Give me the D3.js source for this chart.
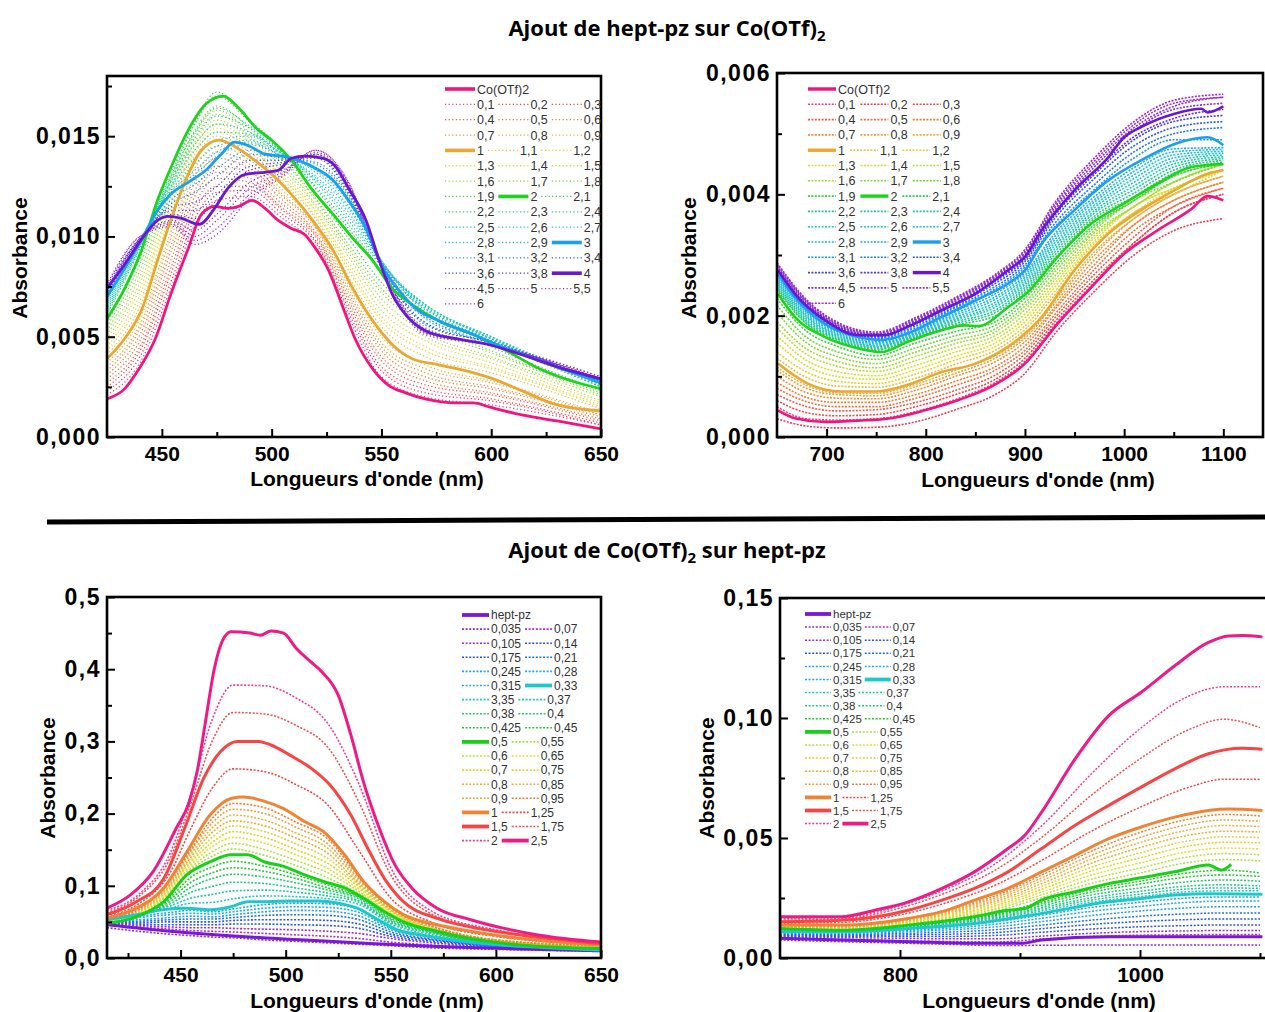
<!DOCTYPE html>
<html><head><meta charset="utf-8">
<script src="https://cdn.jsdelivr.net/npm/d3@7"></script>
<style>body{margin:0;background:#fff;} svg{display:block;}</style>
</head><body>
<svg id="chart" width="1265" height="1012"></svg>
<script>
// ---------------- Panel 1 : hept-pz added to Co(OTf)2, 425-650 nm ----------------
const p1Labels = ["Co(OTf)2","0,1","0,2","0,3","0,4","0,5","0,6","0,7","0,8","0,9","1","1,1","1,2","1,3","1,4","1,5","1,6","1,7","1,8","1,9","2","2,1","2,2","2,3","2,4","2,5","2,6","2,7","2,8","2,9","3","3,1","3,2","3,4","3,6","3,8","4","4,5","5","5,5","6"];
const p1Colors = ["#f0147c","#f03c82","#f03c50","#f04848","#f05a4a","#f0703c","#f07c34","#ee8c3c","#e8a040","#e8b040","#e8a832","#e8c040","#e8d030","#e0dc30","#d4e030","#b4e034","#a0dc38","#88d838","#6cd838","#3cd03c","#1ed21e","#20d05a","#20cc7c","#20c894","#20c8a8","#20c8c0","#20c4cc","#20c0d8","#20b8e0","#20a8ec","#1aa0f0","#2090f0","#2078f0","#2858f0","#3c40e8","#5a30e0","#6a18d0","#8030d8","#8c30d4","#9a30d0","#a028cc"];
const p1SolidCo = [[425,0.0019],[433,0.0024],[439,0.0033],[447,0.0049],[454,0.0071],[462,0.0094],[468,0.0111],[474,0.0115],[480,0.0114],[485,0.0115],[491,0.0118],[497,0.0114],[503,0.0108],[509,0.0104],[515,0.0101],[520,0.0094],[526,0.0083],[532,0.0066],[538,0.0049],[546,0.0034],[553,0.0026],[561,0.0022],[570,0.0019],[584,0.0017],[592,0.0017],[599,0.0015],[614,0.0011],[630,0.0008],[650,0.0004]];
const p1Solid1 = [[425,0.0039],[433,0.0049],[441,0.0064],[448,0.0088],[454,0.0108],[462,0.0131],[468,0.0143],[476,0.0148],[483,0.0145],[491,0.0139],[500,0.0131],[509,0.0121],[518,0.0109],[528,0.0093],[537,0.0074],[546,0.0058],[555,0.0046],[564,0.0039],[576,0.0036],[592,0.0032],[601,0.0029],[614,0.0023],[630,0.0016],[650,0.0013]];
const p1Solid2 = [[425,0.0059],[433,0.0074],[441,0.0094],[448,0.0118],[454,0.0134],[462,0.0153],[470,0.0166],[478,0.0170],[485,0.0164],[493,0.0154],[500,0.0148],[509,0.0138],[518,0.0124],[528,0.0111],[537,0.0099],[546,0.0088],[555,0.0074],[564,0.0066],[576,0.0058],[592,0.0051],[607,0.0043],[622,0.0034],[650,0.0024]];
const p1Solid3 = [[425,0.0070],[433,0.0084],[441,0.0099],[448,0.0113],[454,0.0121],[462,0.0127],[470,0.0133],[477,0.0141],[483,0.0147],[490,0.0145],[497,0.0141],[505,0.0140],[512,0.0138],[520,0.0134],[528,0.0128],[535,0.0118],[543,0.0104],[550,0.0086],[558,0.0073],[567,0.0063],[576,0.0058],[592,0.0051],[607,0.0044],[622,0.0038],[650,0.0027]];
const p1Solid4 = [[425,0.0074],[433,0.0086],[441,0.0099],[448,0.0108],[453,0.0110],[459,0.0109],[467,0.0106],[474,0.0114],[480,0.0124],[488,0.0131],[497,0.0132],[503,0.0133],[509,0.0139],[515,0.0140],[523,0.0139],[529,0.0135],[535,0.0124],[543,0.0108],[549,0.0088],[555,0.0071],[561,0.0061],[570,0.0053],[584,0.0049],[599,0.0046],[614,0.0041],[630,0.0035],[650,0.0029]];
const p1Grid = [425,440,455,465,475,490,505,520,535,550,570,600,650];
const p1DotLabels = ["0,1","0,2","0,3","0,4","0,5","0,6","0,7","0,8","0,9","1,1","1,2","1,3","1,4","1,5","1,6","1,7","1,8","1,9","2,1","2,2","2,3","2,4","2,5","2,6","2,7","2,8","2,9","3,1","3,2","3,4","3,6","3,8","4,5","5","5,5","6"];
const p1DotValues = [
[0.0021,0.0037,0.0077,0.0106,0.0118,0.0120,0.0109,0.0095,0.0060,0.0030,0.0020,0.0016,0.0006],
[0.0023,0.0040,0.0080,0.0109,0.0122,0.0123,0.0111,0.0097,0.0062,0.0033,0.0022,0.0018,0.0006],
[0.0025,0.0043,0.0084,0.0113,0.0125,0.0125,0.0113,0.0098,0.0064,0.0035,0.0024,0.0019,0.0007],
[0.0027,0.0045,0.0087,0.0116,0.0129,0.0127,0.0114,0.0100,0.0066,0.0038,0.0026,0.0021,0.0008],
[0.0029,0.0048,0.0091,0.0120,0.0132,0.0129,0.0116,0.0101,0.0068,0.0040,0.0028,0.0022,0.0009],
[0.0031,0.0051,0.0095,0.0123,0.0135,0.0132,0.0118,0.0102,0.0070,0.0043,0.0030,0.0024,0.0010],
[0.0033,0.0054,0.0098,0.0127,0.0139,0.0134,0.0120,0.0104,0.0072,0.0045,0.0032,0.0025,0.0011],
[0.0035,0.0056,0.0102,0.0130,0.0142,0.0136,0.0121,0.0105,0.0074,0.0047,0.0034,0.0027,0.0011],
[0.0037,0.0059,0.0105,0.0134,0.0145,0.0138,0.0123,0.0106,0.0076,0.0050,0.0036,0.0028,0.0012],
[0.0041,0.0065,0.0112,0.0139,0.0150,0.0142,0.0127,0.0109,0.0080,0.0055,0.0040,0.0032,0.0014],
[0.0043,0.0068,0.0114,0.0141,0.0152,0.0144,0.0129,0.0110,0.0083,0.0058,0.0043,0.0034,0.0015],
[0.0045,0.0071,0.0117,0.0143,0.0154,0.0145,0.0130,0.0112,0.0085,0.0060,0.0045,0.0035,0.0016],
[0.0047,0.0074,0.0119,0.0145,0.0156,0.0147,0.0132,0.0113,0.0087,0.0063,0.0048,0.0037,0.0017],
[0.0049,0.0077,0.0122,0.0147,0.0158,0.0149,0.0134,0.0115,0.0090,0.0066,0.0050,0.0039,0.0018],
[0.0051,0.0080,0.0125,0.0149,0.0161,0.0150,0.0136,0.0116,0.0092,0.0069,0.0052,0.0040,0.0020],
[0.0053,0.0083,0.0127,0.0151,0.0163,0.0152,0.0138,0.0118,0.0094,0.0072,0.0055,0.0042,0.0021],
[0.0055,0.0086,0.0130,0.0153,0.0165,0.0154,0.0139,0.0119,0.0096,0.0074,0.0057,0.0043,0.0022],
[0.0057,0.0089,0.0132,0.0156,0.0170,0.0157,0.0141,0.0121,0.0099,0.0077,0.0060,0.0045,0.0023],
[0.0061,0.0094,0.0134,0.0157,0.0172,0.0158,0.0143,0.0124,0.0104,0.0082,0.0064,0.0048,0.0025],
[0.0062,0.0095,0.0132,0.0152,0.0164,0.0155,0.0143,0.0125,0.0106,0.0083,0.0065,0.0049,0.0025],
[0.0063,0.0095,0.0130,0.0149,0.0160,0.0154,0.0142,0.0127,0.0108,0.0085,0.0066,0.0049,0.0026],
[0.0064,0.0096,0.0129,0.0146,0.0156,0.0152,0.0142,0.0128,0.0110,0.0086,0.0066,0.0050,0.0026],
[0.0065,0.0096,0.0127,0.0143,0.0152,0.0151,0.0141,0.0129,0.0112,0.0087,0.0066,0.0050,0.0026],
[0.0066,0.0097,0.0126,0.0139,0.0148,0.0150,0.0141,0.0130,0.0114,0.0087,0.0065,0.0050,0.0027],
[0.0067,0.0097,0.0124,0.0136,0.0145,0.0148,0.0141,0.0132,0.0115,0.0088,0.0064,0.0049,0.0027],
[0.0068,0.0098,0.0123,0.0133,0.0142,0.0147,0.0140,0.0133,0.0117,0.0088,0.0063,0.0049,0.0027],
[0.0069,0.0098,0.0122,0.0131,0.0140,0.0146,0.0140,0.0134,0.0118,0.0088,0.0062,0.0048,0.0027],
[0.0071,0.0098,0.0119,0.0126,0.0134,0.0143,0.0139,0.0136,0.0120,0.0087,0.0060,0.0048,0.0027],
[0.0071,0.0098,0.0117,0.0122,0.0130,0.0141,0.0139,0.0137,0.0121,0.0086,0.0059,0.0047,0.0028],
[0.0072,0.0099,0.0115,0.0117,0.0125,0.0138,0.0138,0.0139,0.0122,0.0086,0.0057,0.0047,0.0028],
[0.0073,0.0099,0.0113,0.0113,0.0121,0.0135,0.0137,0.0140,0.0123,0.0086,0.0056,0.0047,0.0028],
[0.0073,0.0099,0.0111,0.0109,0.0118,0.0133,0.0136,0.0141,0.0124,0.0085,0.0054,0.0046,0.0029],
[0.0074,0.0099,0.0108,0.0103,0.0111,0.0127,0.0133,0.0141,0.0125,0.0085,0.0053,0.0046,0.0029],
[0.0075,0.0099,0.0107,0.0100,0.0108,0.0124,0.0132,0.0142,0.0126,0.0085,0.0052,0.0046,0.0029],
[0.0075,0.0100,0.0106,0.0098,0.0104,0.0121,0.0131,0.0143,0.0127,0.0085,0.0052,0.0046,0.0030],
[0.0076,0.0100,0.0105,0.0096,0.0101,0.0119,0.0130,0.0143,0.0127,0.0084,0.0051,0.0046,0.0030]];

// ---------------- Panel 2 : hept-pz added to Co(OTf)2, 650-1100 nm ----------------
const p2SolidCo = [[651,0.00044],[668,0.00031],[698,0.00025],[732,0.00027],[765,0.00031],[799,0.00044],[833,0.00061],[866,0.00083],[900,0.00121],[933,0.00187],[967,0.00247],[1000,0.00302],[1034,0.00341],[1068,0.00376],[1084,0.00397],[1100,0.0039]];
const p2Solid1 = [[651,0.00121],[681,0.00088],[715,0.00075],[749,0.00075],[782,0.00086],[816,0.00107],[850,0.00121],[883,0.00149],[917,0.00198],[950,0.00275],[984,0.00335],[1017,0.00374],[1051,0.00407],[1084,0.00434],[1100,0.0044]];
const p2Solid2 = [[651,0.00236],[668,0.00198],[698,0.00165],[732,0.00146],[755,0.0014],[782,0.00157],[816,0.00176],[839,0.00184],[853,0.00183],[883,0.00214],[903,0.00239],[933,0.00297],[967,0.00352],[1000,0.00385],[1034,0.00418],[1068,0.00445],[1100,0.0045]];
const p2Solid3 = [[651,0.00269],[668,0.00231],[698,0.00187],[732,0.00165],[755,0.0016],[782,0.00171],[816,0.00198],[850,0.00225],[883,0.00253],[900,0.00275],[917,0.00319],[950,0.00374],[984,0.00423],[1017,0.00456],[1051,0.00483],[1084,0.00494],[1100,0.00481]];
const p2Solid4 = [[651,0.00275],[668,0.00236],[698,0.00193],[732,0.00168],[759,0.00168],[782,0.00182],[816,0.00209],[850,0.00236],[883,0.00275],[900,0.00297],[917,0.00341],[950,0.00407],[984,0.00461],[1000,0.00494],[1017,0.00511],[1051,0.00533],[1078,0.00541],[1084,0.00535],[1100,0.00545]];
const p2Grid = [650,680,710,750,790,830,870,900,930,970,1010,1050,1100];
const p2DotValues = [
[0.0005,0.0003,0.00028,0.0003,0.00042,0.00062,0.0009,0.00125,0.00185,0.00255,0.0032,0.0037,0.0040],
[0.0003,0.00018,0.00015,0.00016,0.00025,0.00045,0.0007,0.00105,0.0017,0.0024,0.0030,0.0034,0.0036],
[0.0006,0.0004,0.00035,0.00037,0.0005,0.0007,0.00095,0.0013,0.0019,0.0026,0.0032,0.0037,0.0040],
[0.0007,0.0005,0.00043,0.00045,0.00057,0.00077,0.00102,0.00137,0.00196,0.00268,0.0033,0.0038,0.0041],
[0.0008,0.00058,0.0005,0.0005,0.00064,0.00085,0.0011,0.00143,0.00202,0.00276,0.0034,0.0038,0.0041],
[0.0009,0.00065,0.00057,0.00057,0.0007,0.00092,0.00116,0.0015,0.0021,0.00284,0.0035,0.0039,0.0042],
[0.0010,0.00073,0.00064,0.00063,0.00077,0.0010,0.00124,0.00157,0.00214,0.00292,0.0035,0.0039,0.0042],
[0.0011,0.0008,0.0007,0.00068,0.00083,0.00105,0.0013,0.00163,0.0022,0.0030,0.0036,0.0040,0.0043],
[0.00115,0.00085,0.00073,0.00072,0.00087,0.0011,0.00134,0.00167,0.00225,0.00305,0.0036,0.0040,0.0043],
[0.0013,0.00098,0.00084,0.00082,0.00097,0.0012,0.00143,0.00177,0.00234,0.00314,0.0037,0.0040,0.0044],
[0.0014,0.00107,0.00092,0.00088,0.00104,0.00127,0.00149,0.00183,0.0024,0.00319,0.0037,0.0041,0.0044],
[0.00155,0.00117,0.0010,0.00095,0.00111,0.00133,0.00155,0.0019,0.00247,0.00323,0.0038,0.0041,0.0044],
[0.00167,0.00126,0.00108,0.00101,0.00118,0.0014,0.00161,0.00196,0.00253,0.00328,0.0038,0.0041,0.0044],
[0.0018,0.00136,0.00117,0.00108,0.00126,0.00147,0.00167,0.00203,0.00259,0.00332,0.0038,0.0042,0.0045],
[0.0019,0.00145,0.00125,0.00114,0.00133,0.00154,0.00173,0.0021,0.00265,0.00337,0.0038,0.0042,0.0045],
[0.00205,0.00155,0.00133,0.00121,0.0014,0.0016,0.00178,0.00216,0.00272,0.00341,0.0039,0.0042,0.0045],
[0.00217,0.00164,0.00141,0.00128,0.00147,0.00167,0.00184,0.00222,0.00278,0.00346,0.0039,0.0043,0.0045],
[0.00228,0.00174,0.0015,0.00134,0.00155,0.00174,0.0019,0.00229,0.00284,0.0035,0.0039,0.0043,0.0045],
[0.00243,0.00186,0.0016,0.00143,0.00164,0.00184,0.0020,0.00239,0.00295,0.0036,0.00396,0.00435,0.00453],
[0.00246,0.00188,0.00162,0.00145,0.00165,0.00187,0.00205,0.00243,0.0030,0.00364,0.00402,0.0044,0.00456],
[0.00249,0.00191,0.00164,0.00147,0.00167,0.0019,0.00209,0.00247,0.00305,0.00369,0.00408,0.00445,0.00459],
[0.00252,0.00194,0.00166,0.00149,0.00168,0.00193,0.00214,0.00251,0.0031,0.00373,0.00414,0.0045,0.00462],
[0.00255,0.00197,0.00168,0.0015,0.0017,0.00195,0.00218,0.00255,0.00315,0.00378,0.0042,0.00455,0.00465],
[0.00258,0.00199,0.0017,0.00152,0.00171,0.00198,0.00222,0.00259,0.0032,0.00382,0.00426,0.0046,0.00468],
[0.00261,0.00202,0.00172,0.00154,0.00173,0.00201,0.00227,0.00263,0.00325,0.00387,0.00432,0.00465,0.00471],
[0.00264,0.00205,0.00174,0.00156,0.00174,0.00204,0.00231,0.00267,0.0033,0.00391,0.00438,0.0047,0.00474],
[0.00267,0.00207,0.00176,0.00158,0.00176,0.00207,0.00236,0.00271,0.00335,0.00396,0.00444,0.00475,0.00477],
[0.00272,0.00212,0.00179,0.00162,0.0018,0.00213,0.00244,0.0028,0.00346,0.00408,0.0046,0.0049,0.0049],
[0.00273,0.00213,0.0018,0.00163,0.00183,0.00215,0.00248,0.00284,0.00352,0.00416,0.0047,0.0050,0.0051],
[0.00275,0.00215,0.00181,0.00165,0.00186,0.00218,0.00253,0.00289,0.0036,0.00426,0.0048,0.0051,0.0052],
[0.00276,0.00216,0.00182,0.00166,0.00188,0.0022,0.00257,0.00293,0.00365,0.00433,0.0049,0.0052,0.0053],
[0.00277,0.00217,0.00183,0.00167,0.00189,0.00221,0.00259,0.00296,0.00368,0.00437,0.00495,0.00525,0.0054],
[0.0028,0.0022,0.00185,0.00168,0.00191,0.00224,0.00262,0.0030,0.00374,0.00445,0.00505,0.0054,0.0055],
[0.00282,0.00222,0.00186,0.0017,0.00193,0.00226,0.00264,0.00303,0.00378,0.0045,0.0051,0.00545,0.0056],
[0.00285,0.00224,0.00188,0.00171,0.00195,0.00228,0.00266,0.00306,0.00382,0.00455,0.00515,0.0055,0.0056],
[0.00287,0.00226,0.0019,0.00173,0.00197,0.0023,0.00268,0.00309,0.00386,0.0046,0.0052,0.00555,0.00565]];

// ---------------- Panel 3 : Co(OTf)2 added to hept-pz, 415-650 nm ----------------
const p3Labels = ["hept-pz","0,035","0,07","0,105","0,14","0,175","0,21","0,245","0,28","0,315","0,33","3,35","0,37","0,38","0,4","0,425","0,45","0,5","0,55","0,6","0,65","0,7","0,75","0,8","0,85","0,9","0,95","1","1,25","1,5","1,75","2","2,5"];
const p3Colors = ["#7a18d8","#8a2ee0","#b42cd0","#9a2cd8","#3050f0","#2458f0","#2070f0","#20a0f0","#20a8f0","#20a8e8","#1ec8c8","#20c8c0","#20c89a","#20c882","#20c870","#20c83c","#28c828","#18d018","#a8e040","#b8e040","#e0e030","#e0d420","#e0d040","#e8b030","#e8b440","#e8a440","#f07c30","#f08434","#f04848","#f84444","#f05050","#f03c94","#f01a84"];
const p3SolidHept = [[415,0.046],[445,0.037],[477,0.030],[509,0.025],[540,0.020],[572,0.016],[604,0.013],[650,0.010]];
const p3Solid033 = [[415,0.053],[429,0.060],[442,0.067],[453,0.069],[464,0.067],[474,0.071],[482,0.078],[490,0.078],[502,0.079],[515,0.079],[525,0.076],[534,0.069],[544,0.053],[553,0.039],[564,0.032],[580,0.025],[604,0.018],[650,0.011]];
const p3Solid05 = [[415,0.048],[429,0.057],[442,0.078],[453,0.115],[464,0.133],[474,0.143],[482,0.143],[490,0.133],[499,0.127],[509,0.115],[518,0.106],[528,0.097],[537,0.083],[547,0.064],[556,0.050],[572,0.037],[588,0.027],[612,0.018],[650,0.013]];
const p3Solid1 = [[415,0.055],[429,0.069],[442,0.097],[453,0.147],[464,0.198],[474,0.221],[480,0.223],[490,0.217],[499,0.207],[509,0.189],[518,0.175],[528,0.143],[537,0.106],[547,0.078],[556,0.060],[572,0.046],[588,0.037],[612,0.027],[650,0.018]];
const p3Solid15 = [[415,0.060],[429,0.078],[442,0.110],[452,0.180],[461,0.249],[469,0.286],[477,0.300],[487,0.300],[493,0.295],[502,0.281],[512,0.263],[521,0.240],[531,0.198],[539,0.152],[547,0.110],[556,0.078],[572,0.055],[588,0.043],[612,0.032],[650,0.020]];
const p3Solid25 = [[415,0.069],[426,0.087],[437,0.120],[448,0.180],[454,0.215],[458,0.260],[462,0.330],[466,0.400],[470,0.440],[474,0.452],[483,0.450],[488,0.447],[493,0.453],[499,0.450],[505,0.429],[512,0.410],[517,0.397],[525,0.364],[531,0.309],[537,0.244],[544,0.184],[552,0.129],[560,0.097],[572,0.069],[588,0.053],[604,0.041],[620,0.032],[650,0.022]];
const p3Grid = [415,430,445,455,465,475,490,505,520,535,550,570,600,650];
const p3DotLabels = ["0,035","0,07","0,105","0,14","0,175","0,21","0,245","0,28","0,315","3,35","0,37","0,38","0,4","0,425","0,45","0,55","0,6","0,65","0,7","0,75","0,8","0,85","0,9","0,95","1,25","1,75","2"];
const p3DotValues = [
[0.042,0.037,0.033,0.031,0.029,0.028,0.025,0.023,0.021,0.019,0.017,0.014,0.012,0.009],
[0.047,0.043,0.040,0.038,0.037,0.036,0.034,0.032,0.030,0.027,0.022,0.018,0.014,0.010],
[0.048,0.045,0.043,0.042,0.042,0.041,0.040,0.039,0.037,0.034,0.027,0.021,0.015,0.010],
[0.049,0.047,0.046,0.046,0.046,0.047,0.047,0.046,0.045,0.041,0.030,0.023,0.016,0.010],
[0.050,0.049,0.050,0.050,0.050,0.052,0.053,0.053,0.052,0.047,0.033,0.025,0.016,0.010],
[0.050,0.051,0.053,0.054,0.054,0.056,0.059,0.060,0.059,0.053,0.036,0.026,0.017,0.011],
[0.051,0.053,0.056,0.058,0.057,0.060,0.064,0.066,0.065,0.058,0.039,0.028,0.017,0.011],
[0.052,0.056,0.060,0.062,0.061,0.064,0.069,0.071,0.070,0.063,0.041,0.029,0.018,0.011],
[0.053,0.058,0.063,0.066,0.064,0.068,0.074,0.076,0.075,0.067,0.043,0.030,0.018,0.011],
[0.052,0.060,0.069,0.076,0.077,0.082,0.086,0.085,0.082,0.074,0.047,0.032,0.018,0.011],
[0.051,0.059,0.072,0.083,0.088,0.093,0.094,0.091,0.086,0.077,0.049,0.034,0.019,0.012],
[0.050,0.059,0.075,0.091,0.099,0.105,0.103,0.097,0.090,0.079,0.051,0.035,0.019,0.012],
[0.050,0.059,0.078,0.098,0.110,0.116,0.112,0.104,0.094,0.082,0.053,0.036,0.019,0.012],
[0.049,0.058,0.081,0.105,0.118,0.125,0.120,0.110,0.097,0.084,0.055,0.037,0.020,0.012],
[0.049,0.058,0.084,0.112,0.126,0.134,0.127,0.115,0.101,0.085,0.058,0.037,0.021,0.013],
[0.049,0.059,0.090,0.122,0.141,0.151,0.142,0.128,0.111,0.089,0.061,0.038,0.022,0.013],
[0.050,0.060,0.092,0.125,0.147,0.159,0.150,0.135,0.118,0.092,0.062,0.039,0.023,0.014],
[0.050,0.061,0.095,0.129,0.154,0.167,0.159,0.143,0.124,0.095,0.064,0.039,0.023,0.014],
[0.051,0.062,0.097,0.133,0.160,0.175,0.167,0.150,0.131,0.098,0.065,0.040,0.024,0.015],
[0.051,0.063,0.099,0.136,0.167,0.183,0.175,0.158,0.138,0.101,0.066,0.041,0.024,0.015],
[0.052,0.065,0.101,0.140,0.174,0.190,0.183,0.166,0.145,0.103,0.067,0.042,0.024,0.016],
[0.053,0.066,0.103,0.144,0.180,0.198,0.191,0.173,0.152,0.106,0.068,0.043,0.025,0.016],
[0.054,0.067,0.106,0.148,0.187,0.206,0.200,0.181,0.158,0.109,0.070,0.044,0.025,0.017],
[0.054,0.068,0.108,0.151,0.193,0.214,0.208,0.188,0.165,0.112,0.071,0.044,0.025,0.017],
[0.058,0.075,0.118,0.180,0.235,0.262,0.258,0.240,0.212,0.148,0.083,0.049,0.030,0.019],
[0.063,0.085,0.138,0.215,0.300,0.340,0.338,0.322,0.292,0.215,0.115,0.060,0.037,0.021],
[0.066,0.088,0.145,0.228,0.330,0.378,0.377,0.360,0.325,0.240,0.125,0.064,0.039,0.022]];

// ---------------- Panel 4 : Co(OTf)2 added to hept-pz, 700-1100 nm ----------------
const p4SolidHept = [[700,0.0082],[751,0.0075],[807,0.0068],[862,0.0061],[901,0.0061],[918,0.0075],[974,0.0089],[1029,0.0089],[1102,0.0089]];
const p4Solid033 = [[700,0.0109],[751,0.0109],[807,0.0123],[862,0.0144],[918,0.0186],[974,0.0234],[1001,0.0248],[1029,0.0262],[1057,0.0268],[1102,0.0266]];
const p4Solid05 = [[700,0.0123],[751,0.0116],[807,0.0137],[862,0.0172],[890,0.0199],[904,0.0206],[918,0.0241],[946,0.0276],[974,0.031],[1001,0.0334],[1029,0.0359],[1057,0.0387],[1068,0.0366],[1076,0.039]];
const p4Solid1 = [[700,0.0137],[751,0.0137],[807,0.0165],[835,0.0193],[862,0.0241],[890,0.029],[918,0.0359],[946,0.0428],[974,0.0497],[1001,0.0546],[1029,0.0587],[1057,0.0615],[1074,0.0621],[1102,0.0615]];
const p4Solid15 = [[700,0.0151],[751,0.0157],[807,0.0199],[835,0.0241],[862,0.029],[890,0.0359],[918,0.0456],[946,0.0553],[974,0.0636],[1001,0.0712],[1029,0.0788],[1057,0.0851],[1085,0.0874],[1102,0.087]];
const p4Solid25 = [[700,0.0172],[751,0.0172],[779,0.0199],[807,0.0234],[835,0.029],[862,0.0359],[890,0.0456],[904,0.0511],[918,0.0608],[946,0.083],[974,0.101],[1001,0.1107],[1029,0.1218],[1057,0.1315],[1074,0.1342],[1085,0.1344],[1102,0.1338]];
const p4Grid = [700,750,800,840,880,920,960,1000,1040,1070,1100];
const p4DotValues = [
[0.0075,0.0068,0.0062,0.0057,0.0052,0.0053,0.0054,0.0054,0.0054,0.0054,0.0054],
[0.0085,0.0078,0.0073,0.0069,0.0067,0.0080,0.0090,0.0095,0.0097,0.0098,0.0098],
[0.0090,0.0085,0.0082,0.0080,0.0080,0.0092,0.0103,0.0110,0.0113,0.0115,0.0115],
[0.0094,0.0090,0.0090,0.0090,0.0094,0.0108,0.0121,0.0130,0.0135,0.0138,0.0138],
[0.0097,0.0094,0.0096,0.0099,0.0106,0.0123,0.0140,0.0152,0.0160,0.0163,0.0163],
[0.0100,0.0098,0.0102,0.0108,0.0118,0.0138,0.0158,0.0174,0.0184,0.0188,0.0188],
[0.0103,0.0102,0.0108,0.0117,0.0130,0.0153,0.0177,0.0196,0.0209,0.0214,0.0214],
[0.0105,0.0105,0.0113,0.0124,0.0141,0.0167,0.0195,0.0215,0.0232,0.0237,0.0237],
[0.0107,0.0107,0.0117,0.0130,0.0151,0.0180,0.0211,0.0232,0.0250,0.0254,0.0254],
[0.0110,0.0110,0.0123,0.0139,0.0164,0.0198,0.0233,0.0256,0.0276,0.0280,0.0280],
[0.0112,0.0111,0.0125,0.0142,0.0168,0.0205,0.0242,0.0266,0.0288,0.0292,0.0290],
[0.0114,0.0112,0.0127,0.0146,0.0172,0.0212,0.0251,0.0278,0.0300,0.0305,0.0300],
[0.0116,0.0113,0.0129,0.0149,0.0177,0.0220,0.0263,0.0292,0.0318,0.0325,0.0320],
[0.0118,0.0114,0.0131,0.0152,0.0181,0.0228,0.0275,0.0308,0.0338,0.0346,0.0340],
[0.0120,0.0115,0.0133,0.0155,0.0185,0.0235,0.0285,0.0320,0.0355,0.0366,0.0355],
[0.0124,0.0118,0.0138,0.0163,0.0197,0.0254,0.0312,0.0354,0.0398,0.0410,0.0405],
[0.0126,0.0120,0.0141,0.0168,0.0205,0.0266,0.0329,0.0375,0.0421,0.0435,0.0430],
[0.0127,0.0122,0.0144,0.0173,0.0213,0.0278,0.0346,0.0396,0.0443,0.0458,0.0455],
[0.0129,0.0124,0.0147,0.0178,0.0220,0.0290,0.0363,0.0417,0.0466,0.0482,0.0480],
[0.0130,0.0126,0.0149,0.0183,0.0228,0.0302,0.0379,0.0438,0.0488,0.0505,0.0502],
[0.0131,0.0128,0.0152,0.0188,0.0236,0.0314,0.0396,0.0460,0.0511,0.0528,0.0525],
[0.0133,0.0131,0.0155,0.0193,0.0244,0.0326,0.0413,0.0481,0.0533,0.0552,0.0548],
[0.0134,0.0133,0.0158,0.0197,0.0252,0.0338,0.0429,0.0502,0.0556,0.0575,0.0570],
[0.0136,0.0135,0.0160,0.0202,0.0260,0.0350,0.0446,0.0523,0.0578,0.0598,0.0592],
[0.0145,0.0148,0.0180,0.0232,0.0305,0.0412,0.0530,0.0628,0.0710,0.0745,0.0745],
[0.0158,0.0162,0.0208,0.0275,0.0368,0.0510,0.0680,0.0830,0.0950,0.0995,0.0960],
[0.0165,0.0168,0.0218,0.0290,0.0395,0.0560,0.0770,0.0955,0.1090,0.1130,0.1130]];

// ---------------- Axis ticks ----------------
const p1XMajor = [450,500,550,600,650], p1XMinor = [475,525,575,625];
const p1YMajor = [0,0.005,0.010,0.015], p1YMinor = [0.0025,0.0075,0.0125,0.0175];
const p2XMajor = [700,800,900,1000,1100], p2XMinor = [750,850,950,1050];
const p2YMajor = [0,0.002,0.004,0.006], p2YMinor = [0.001,0.003,0.005];
const p3XMajor = [450,500,550,600,650], p3XMinor = [425,475,525,575,625];
const p3YMajor = [0,0.1,0.2,0.3,0.4,0.5], p3YMinor = [0.05,0.15,0.25,0.35,0.45];
const p4XMajor = [800,1000], p4XMinor = [900,1100];
const p4YMajor = [0,0.05,0.10,0.15], p4YMinor = [0.025,0.075,0.125];

// ---------------- Drawing ----------------
const svg = d3.select("#chart");
const defs = svg.append("defs");
const AR = "'Liberation Sans', Arial, Helvetica, sans-serif";

function drawPanel(c) {
  const x = d3.scaleLinear().domain(c.xDomain).range([c.left, c.right]);
  const y = d3.scaleLinear().domain(c.yDomain).range([c.bottom, c.top]);
  const g = svg.append("g");
  defs.append("clipPath").attr("id", "clip" + c.id).append("rect")
    .attr("x", c.left).attr("y", c.top).attr("width", c.right - c.left).attr("height", c.bottom - c.top);
  const plot = g.append("g").attr("clip-path", `url(#clip${c.id})`);
  const line = d3.line().x(d => x(d[0])).y(d => y(d[1])).curve(d3.curveMonotoneX);
  const colorOf = lab => c.colors[c.labels.indexOf(lab)];

  c.dotLabels.forEach((lab, i) => {
    const pts = c.grid.map((w, j) => [w, c.dotValues[i][j]]);
    plot.append("path").attr("d", line(pts)).attr("fill", "none")
      .attr("stroke", colorOf(lab)).attr("stroke-width", c.dotWidth)
      .attr("stroke-dasharray", c.dash);
  });
  c.solids.forEach(([lab, pts]) => {
    plot.append("path").attr("d", line(pts)).attr("fill", "none")
      .attr("stroke", colorOf(lab)).attr("stroke-width", c.solidWidth)
      .attr("stroke-linejoin", "round");
  });

  // frame
  g.append("rect").attr("x", c.left).attr("y", c.top)
    .attr("width", c.right - c.left).attr("height", c.bottom - c.top)
    .attr("fill", "none").attr("stroke", "#000").attr("stroke-width", 2.6);

  const styleAxis = (sel, size, ls) => {
    sel.select(".domain").remove();
    sel.selectAll(".tick line").attr("stroke", "#000").attr("stroke-width", 2);
    sel.selectAll(".tick text").attr("font-family", AR).attr("font-weight", "bold")
      .attr("font-size", size).attr("fill", "#000").attr("letter-spacing", ls);
  };
  const yfmt = v => d3.format(`.${c.yDec}f`)(v).replace(".", ",");

  g.append("g").attr("transform", `translate(0,${c.bottom})`)
    .call(d3.axisBottom(x).tickValues(c.xMajor).tickSize(-8).tickPadding(9).tickFormat(d3.format("d")))
    .call(s => styleAxis(s, 21, 0));
  g.append("g").attr("transform", `translate(0,${c.bottom})`)
    .call(d3.axisBottom(x).tickValues(c.xMinor).tickSize(-5).tickFormat(""))
    .call(s => styleAxis(s, 21, 0));
  g.append("g").attr("transform", `translate(${c.left},0)`)
    .call(d3.axisLeft(y).tickValues(c.yMajor).tickSize(-8).tickPadding(6).tickFormat(yfmt))
    .call(s => styleAxis(s, 23, 1.5));
  g.append("g").attr("transform", `translate(${c.left},0)`)
    .call(d3.axisLeft(y).tickValues(c.yMinor).tickSize(-5).tickFormat(""))
    .call(s => styleAxis(s, 23, 0));

  // axis titles
  g.append("text").attr("x", c.xTitleX).attr("y", c.xTitleY).attr("text-anchor", "middle")
    .attr("font-family", AR).attr("font-weight", "bold").attr("font-size", 21)
    .text("Longueurs d'onde (nm)");
  g.append("text").attr("transform", `translate(${c.yTitleX},${c.yTitleY}) rotate(-90)`)
    .attr("text-anchor", "middle").attr("font-family", AR).attr("font-weight", "bold")
    .attr("font-size", 21).text("Absorbance");

  // legend
  const rows = [[c.labels[0]]];
  for (let i = 1; i < c.labels.length; i += c.perRow) rows.push(c.labels.slice(i, i + c.perRow));
  const solidSet = new Set(c.solids.map(s => s[0]));
  rows.forEach((r, ri) => {
    let xp = c.legX;
    const yy = c.legY + ri * c.legDy;
    r.forEach(lab => {
      const isSolid = solidSet.has(lab);
      g.append("line").attr("x1", xp).attr("x2", xp + c.legLen).attr("y1", yy).attr("y2", yy)
        .attr("stroke", colorOf(lab)).attr("stroke-width", isSolid ? c.solidWidth + 0.8 : c.dotWidth)
        .attr("stroke-dasharray", isSolid ? null : c.dash);
      const t = g.append("text").attr("x", xp + c.legLen + 2).attr("y", yy).attr("dy", "0.36em")
        .attr("font-family", AR).attr("font-size", c.legFont).attr("fill", "#333").text(lab);
      xp += c.legLen + 2 + t.node().getComputedTextLength() + c.legGap;
    });
  });
}

drawPanel({id: 1, labels: p1Labels, colors: p1Colors,
  xDomain: [425, 650], yDomain: [0, 0.018], left: 107, right: 601, top: 76, bottom: 437,
  xMajor: p1XMajor, xMinor: p1XMinor, yMajor: p1YMajor, yMinor: p1YMinor, yDec: 3,
  grid: p1Grid, dotLabels: p1DotLabels, dotValues: p1DotValues,
  solids: [["Co(OTf)2", p1SolidCo], ["1", p1Solid1], ["2", p1Solid2], ["3", p1Solid3], ["4", p1Solid4]],
  dotWidth: 1.3, dash: "1.2,2.4", solidWidth: 2.8,
  xTitleX: 367, xTitleY: 486, yTitleX: 27, yTitleY: 258,
  legX: 445, legY: 89, legDy: 15.35, legLen: 30, legGap: 4, legFont: 12.5, perRow: 3});

drawPanel({id: 2, labels: p1Labels, colors: p1Colors,
  xDomain: [650, 1140], yDomain: [0, 0.006], left: 777, right: 1263, top: 73, bottom: 437,
  xMajor: p2XMajor, xMinor: p2XMinor, yMajor: p2YMajor, yMinor: p2YMinor, yDec: 3,
  grid: p2Grid, dotLabels: p1DotLabels, dotValues: p2DotValues,
  solids: [["Co(OTf)2", p2SolidCo], ["1", p2Solid1], ["2", p2Solid2], ["3", p2Solid3], ["4", p2Solid4]],
  dotWidth: 1.6, dash: "2,1.4", solidWidth: 2.6,
  xTitleX: 1038, xTitleY: 487, yTitleX: 696, yTitleY: 258,
  legX: 808, legY: 89, legDy: 15.3, legLen: 28, legGap: 5, legFont: 12.5, perRow: 3});

drawPanel({id: 3, labels: p3Labels, colors: p3Colors,
  xDomain: [415, 650], yDomain: [0, 0.5], left: 107, right: 601, top: 597, bottom: 958,
  xMajor: p3XMajor, xMinor: p3XMinor, yMajor: p3YMajor, yMinor: p3YMinor, yDec: 1,
  grid: p3Grid, dotLabels: p3DotLabels, dotValues: p3DotValues,
  solids: [["hept-pz", p3SolidHept], ["0,33", p3Solid033], ["0,5", p3Solid05], ["1", p3Solid1], ["1,5", p3Solid15], ["2,5", p3Solid25]],
  dotWidth: 1.6, dash: "2,1.6", solidWidth: 3,
  xTitleX: 367, xTitleY: 1008, yTitleX: 55, yTitleY: 778,
  legX: 462, legY: 615, legDy: 14.1, legLen: 27, legGap: 4, legFont: 12, perRow: 2});

drawPanel({id: 4, labels: p3Labels, colors: p3Colors,
  xDomain: [700, 1125], yDomain: [0, 0.15], left: 780, right: 1290, top: 598, bottom: 958,
  xMajor: p4XMajor, xMinor: p4XMinor, yMajor: p4YMajor, yMinor: p4YMinor, yDec: 2,
  grid: p4Grid, dotLabels: p3DotLabels, dotValues: p4DotValues,
  solids: [["hept-pz", p4SolidHept], ["0,33", p4Solid033], ["0,5", p4Solid05], ["1", p4Solid1], ["1,5", p4Solid15], ["2,5", p4Solid25]],
  dotWidth: 1.5, dash: "2,1.6", solidWidth: 3,
  xTitleX: 1039, xTitleY: 1008, yTitleX: 714, yTitleY: 778,
  legX: 805, legY: 614, legDy: 13.1, legLen: 26, legGap: 3, legFont: 11.5, perRow: 2});

// ---------------- Titles and divider ----------------
const TF = "'Open Sans', 'Noto Sans', sans-serif";
const t1 = svg.append("text").attr("x", 667).attr("y", 36).attr("text-anchor", "middle")
  .attr("font-family", TF).attr("font-weight", "bold").attr("font-size", 22).attr("fill", "#000");
t1.append("tspan").text("Ajout de hept-pz sur Co(OTf)");
t1.append("tspan").attr("dy", 5).attr("font-size", 15).text("2");

const t2 = svg.append("text").attr("x", 667).attr("y", 558).attr("text-anchor", "middle")
  .attr("font-family", TF).attr("font-weight", "bold").attr("font-size", 22).attr("fill", "#000");
t2.append("tspan").text("Ajout de Co(OTf)");
t2.append("tspan").attr("dy", 5).attr("font-size", 15).text("2");
t2.append("tspan").attr("dy", -5).text(" sur hept-pz");

svg.append("line").attr("x1", 47).attr("y1", 522).attr("x2", 1265).attr("y2", 517)
  .attr("stroke", "#000").attr("stroke-width", 5);
</script>
</body></html>
